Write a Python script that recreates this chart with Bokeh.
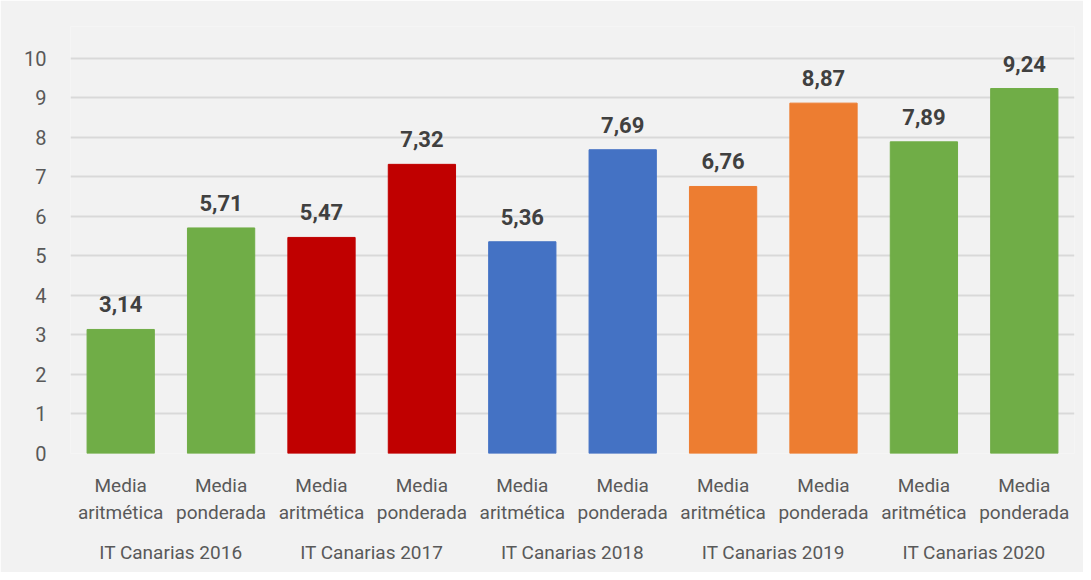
from bokeh.plotting import figure
from bokeh.models import FactorRange, Range1d, ColumnDataSource, FixedTicker
from bokeh.core.properties import value
from bokeh.embed import file_html
from bokeh.resources import INLINE

years = ["IT Canarias 2016", "IT Canarias 2017", "IT Canarias 2018", "IT Canarias 2019", "IT Canarias 2020"]
kinds = ["Media\naritmética", "Media\nponderada"]
aritmetica = [3.14, 5.47, 5.36, 6.76, 7.89]
ponderada = [5.71, 7.32, 7.69, 8.87, 9.24]
year_colors = ["#70ad47", "#c00000", "#4472c4", "#ed7d31", "#70ad47"]
y_ticks = [0, 1, 2, 3, 4, 5, 6, 7, 8, 9, 10]

factors, vals, colors, labels = [], [], [], []
for i, yr in enumerate(years):
    for k, v in zip(kinds, [aritmetica[i], ponderada[i]]):
        factors.append((yr, k))
        vals.append(v)
        colors.append(year_colors[i])
        labels.append(f"{v:.2f}".replace(".", ","))

src = ColumnDataSource(dict(x=factors, top=vals, color=colors, label=labels))

BG = "#f2f2f2"
p = figure(
    x_range=FactorRange(*factors, factor_padding=0, group_padding=0, range_padding=0),
    y_range=Range1d(0, 10.81),
    width=1083, height=572,
    output_backend="svg", toolbar_location=None,
    background_fill_color=BG, border_fill_color=BG,
    min_border_left=70, min_border_right=9, min_border_top=26, min_border_bottom=119,
    outline_line_color=None,
)

p.vbar(x="x", top="top", width=0.67, color="color", source=src)
p.text(x="x", y="top", text="label", source=src, text_align="center", text_baseline="alphabetic",
       y_offset=-25, text_font=value("Roboto"), text_font_style="bold", text_font_size="22px",
       text_color="#404040")

p.xgrid.grid_line_color = None
p.ygrid.grid_line_color = "#d9d9d9"
p.ygrid.grid_line_width = 2
p.yaxis.ticker = FixedTicker(ticks=y_ticks)
p.yaxis.axis_line_color = None
p.yaxis.major_tick_line_color = None
p.yaxis.minor_tick_line_color = None
p.yaxis.major_label_text_font = "Roboto"
p.yaxis.major_label_text_font_size = "20px"
p.yaxis.major_label_text_color = "#595959"
p.yaxis.major_label_standoff = 18

p.xaxis.axis_line_color = None
p.xaxis.major_tick_line_color = None
p.xaxis.minor_tick_line_color = None
p.xaxis.major_label_text_font = "Roboto"
p.xaxis.major_label_text_font_size = "19px"
p.xaxis.major_label_text_color = "#595959"
p.xaxis.major_label_standoff = 14
p.xaxis.major_label_orientation = "horizontal"
p.xaxis.group_text_font = "Roboto"
p.xaxis.group_text_font_size = "19px"
p.xaxis.group_text_font_style = "normal"
p.xaxis.group_text_color = "#595959"
p.xaxis.group_label_orientation = "horizontal"
p.xaxis.separator_line_alpha = 0

open("out.html", "w").write(file_html(p, INLINE))
